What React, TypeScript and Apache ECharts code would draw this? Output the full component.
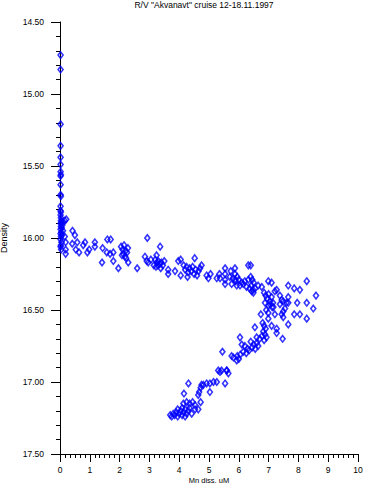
import React, { useEffect, useRef } from "react";
import * as echarts from "echarts";

const TITLE = 'R/V "Akvanavt" cruise 12-18.11.1997';
const X_NAME = "Mn diss. uM";
const Y_NAME = "Density";

// [Mn diss. uM, density]
const surfaceColumn: [number, number][] = [
  [0.02, 14.73], [0.02, 14.83], [0.02, 15.21], [0.02, 15.36], [0.02, 15.44], [0.02, 15.49],
  [0.02, 15.54], [0.03, 15.56], [0.02, 15.57], [0.02, 15.63], [0.02, 15.7], [0.03, 15.71],
  [0.02, 15.78], [0.02, 15.81], [0.03, 15.82], [0.02, 15.84], [0.03, 15.86], [0.03, 15.88],
  [0.05, 15.89], [0.02, 15.9], [0.08, 15.91], [0.03, 15.92], [0.06, 15.93], [0.02, 15.94],
  [0.1, 15.95], [0.04, 15.96], [0.02, 15.97], [0.07, 15.98], [0.03, 15.99], [0.02, 16.01],
  [0.05, 16.03], [0.03, 16.05], [0.02, 16.06], [0.04, 16.08], [0.16, 15.88], [0.21, 15.87],
  [0.1, 15.89], [0.16, 15.99], [0.19, 16.03], [0.19, 16.08], [0.19, 16.11],
];

const upperHalocline: [number, number][] = [
  [0.42, 15.95], [0.5, 15.98], [0.41, 16.04], [0.58, 16.03], [0.53, 16.08], [0.64, 16.1],
  [0.78, 16.05], [0.84, 16.03], [0.98, 16.08], [0.92, 16.1], [1.17, 16.03], [1.17, 16.06],
  [1.43, 16.07], [1.41, 16.17], [1.59, 16.01], [1.7, 16.01], [1.57, 16.1], [1.68, 16.11],
  [1.79, 16.1], [1.79, 16.16], [1.96, 16.21], [2.05, 16.06], [2.1, 16.08], [2.15, 16.05],
  [2.2, 16.09], [2.12, 16.11], [2.25, 16.1], [2.18, 16.13], [2.08, 16.12], [2.28, 16.07],
  [2.22, 16.14], [2.29, 16.17], [2.59, 16.21], [2.93, 16.0], [2.85, 16.13], [2.91, 16.16],
  [2.96, 16.17], [3.05, 16.15],
];

const midHalocline: [number, number][] = [
  [3.2, 16.15], [3.25, 16.17], [3.3, 16.16], [3.35, 16.18], [3.28, 16.19], [3.4, 16.17],
  [3.45, 16.19], [3.22, 16.2], [3.38, 16.21], [3.5, 16.16], [3.24, 16.12], [3.36, 16.06],
  [3.15, 16.19], [3.63, 16.22], [3.63, 16.25], [3.86, 16.23], [3.97, 16.16], [4.05, 16.15],
  [4.05, 16.26], [4.15, 16.19], [4.2, 16.22], [4.25, 16.2], [4.3, 16.24], [4.35, 16.21],
  [4.4, 16.23], [4.45, 16.2], [4.5, 16.25], [4.55, 16.22], [4.6, 16.26], [4.65, 16.23],
  [4.7, 16.21], [4.28, 16.27], [4.52, 16.14], [4.75, 16.19], [4.92, 16.26], [4.98, 16.28],
  [5.05, 16.25], [5.26, 16.28], [5.37, 16.28], [5.35, 16.25], [5.54, 16.21], [5.54, 16.25],
  [5.54, 16.29], [5.54, 16.32], [5.73, 16.23], [5.87, 16.21], [5.87, 16.25], [5.87, 16.29],
  [5.76, 16.32], [5.93, 16.33], [6.04, 16.33], [6.15, 16.32], [6.26, 16.34], [6.32, 16.29],
  [6.36, 16.35], [6.32, 16.19], [6.4, 16.19], [5.7, 16.27], [5.8, 16.28], [5.9, 16.3],
  [6.0, 16.29], [6.1, 16.31], [6.2, 16.3], [5.95, 16.27],
];

const maximumLayer: [number, number][] = [
  [6.4, 16.27], [6.45, 16.29], [6.5, 16.31], [6.42, 16.33], [6.55, 16.35], [6.48, 16.36],
  [6.43, 16.37], [6.49, 16.38], [6.65, 16.33], [6.77, 16.34], [6.99, 16.3], [7.1, 16.31],
  [7.27, 16.36], [7.21, 16.37], [7.38, 16.4], [7.44, 16.43], [7.66, 16.33], [7.86, 16.35],
  [8.05, 16.36], [8.28, 16.3], [8.59, 16.4], [7.66, 16.41], [6.85, 16.38], [6.9, 16.4],
  [6.95, 16.42], [7.0, 16.39], [7.05, 16.44], [7.1, 16.41], [6.88, 16.45], [7.0, 16.47],
  [7.12, 16.48], [6.92, 16.5], [7.15, 16.45], [7.05, 16.46], [7.16, 16.48], [7.38, 16.46],
  [7.49, 16.44], [7.6, 16.45], [7.66, 16.45], [7.55, 16.49], [7.49, 16.51], [7.44, 16.53],
  [7.49, 16.55], [7.96, 16.45], [8.28, 16.45], [8.5, 16.49], [7.86, 16.53], [8.05, 16.53],
  [8.28, 16.56], [7.66, 16.6], [7.47, 16.7], [7.27, 16.63], [7.27, 16.66], [7.1, 16.61],
  [6.99, 16.52], [6.99, 16.56], [6.74, 16.53], [7.21, 16.53],
];

const lowerLayer: [number, number][] = [
  [6.8, 16.59], [6.85, 16.61], [6.9, 16.63], [6.82, 16.65], [6.88, 16.67], [6.93, 16.69],
  [6.85, 16.71], [6.78, 16.68], [6.54, 16.62], [6.6, 16.69], [6.7, 16.7], [6.4, 16.72],
  [6.5, 16.74], [6.6, 16.73], [6.45, 16.76], [6.55, 16.77], [6.65, 16.75], [6.35, 16.78],
  [6.04, 16.69], [6.1, 16.74], [6.2, 16.75], [6.3, 16.77], [6.15, 16.79], [6.25, 16.8],
  [6.05, 16.81], [5.95, 16.82], [6.0, 16.84], [5.93, 16.85], [5.82, 16.83], [5.76, 16.82],
  [5.45, 16.79], [5.6, 16.92],
];

const deepLayer: [number, number][] = [
  [5.31, 16.92], [5.37, 16.93], [5.42, 16.92], [5.59, 16.92], [5.65, 16.94], [5.54, 17.01],
  [5.26, 17.0], [5.15, 17.0], [5.03, 17.01], [4.92, 17.01], [4.81, 17.02], [4.75, 17.02],
  [5.03, 17.07], [4.72, 17.04], [4.67, 17.07], [4.64, 17.09], [4.31, 17.01], [4.16, 17.08],
  [4.14, 17.15], [4.25, 17.14], [4.35, 17.15], [4.45, 17.14], [4.53, 17.16], [4.72, 17.14],
  [4.64, 17.19], [4.53, 17.19], [4.42, 17.22], [3.7, 17.23], [3.75, 17.24], [3.8, 17.22],
  [3.85, 17.23], [3.9, 17.21], [3.95, 17.24], [4.0, 17.22], [4.05, 17.2], [4.1, 17.23],
  [4.15, 17.21], [4.2, 17.19], [4.25, 17.22], [4.3, 17.2], [4.35, 17.18], [4.1, 17.18],
  [3.95, 17.19], [4.2, 17.24],
];

const X_MIN = 0;
const X_MAX = 10;
const X_STEP = 1;
const Y_MIN = 14.5;
const Y_MAX = 17.5;
const Y_STEP = 0.5;

const FONT = "'Liberation Sans', Arial, sans-serif";

export default function App() {
  const ref = useRef<HTMLDivElement>(null);
  useEffect(() => {
    if (!ref.current) return;
    const chart = echarts.init(ref.current, undefined, { renderer: "svg" });
    const allPoints = [
      ...surfaceColumn,
      ...upperHalocline,
      ...midHalocline,
      ...maximumLayer,
      ...lowerLayer,
      ...deepLayer,
    ];
    const axisLine = { lineStyle: { color: "#000", width: 1 } };
    chart.setOption({
      animation: false,
      backgroundColor: "#fff",
      grid: {
        left: 60,
        right: 15,
        top: 22,
        bottom: 31,
        containLabel: false,
        outerBoundsMode: "none",
      },
      graphic: [
        {
          type: "text",
          x: 204,
          y: 5,
          style: {
            text: TITLE,
            fontSize: 8.5,
            fontFamily: FONT,
            fill: "#000",
            textAlign: "center",
            textVerticalAlign: "middle",
          },
        },
        {
          type: "text",
          x: 209,
          y: 480.5,
          style: {
            text: X_NAME,
            fontSize: 7.5,
            fontFamily: FONT,
            fill: "#000",
            textAlign: "center",
            textVerticalAlign: "middle",
          },
        },
      ],
      xAxis: {
        type: "value",
        min: X_MIN,
        max: X_MAX,
        interval: X_STEP,
        position: "bottom",
        axisLine: { show: true, onZero: false, ...axisLine },
        axisTick: { show: true, length: 8, lineStyle: { color: "#000" } },
        minorTick: { show: true, splitNumber: 6, length: 4, lineStyle: { color: "#000" } },
        splitLine: { show: false },
        axisLabel: { margin: 11, fontSize: 8.5, color: "#000", fontFamily: FONT },
      },
      yAxis: {
        type: "value",
        inverse: true,
        min: Y_MIN,
        max: Y_MAX,
        interval: Y_STEP,
        axisLine: { show: true, onZero: false, ...axisLine },
        axisTick: { show: true, length: 9, lineStyle: { color: "#000" } },
        minorTick: { show: true, splitNumber: 5, length: 4, lineStyle: { color: "#000" } },
        splitLine: { show: false },
        axisLabel: {
          margin: 16,
          fontSize: 8.5,
          color: "#000",
          fontFamily: FONT,
          formatter: (v: number) => v.toFixed(2),
        },
        name: Y_NAME,
        nameLocation: "middle",
        nameGap: 52,
        nameRotate: 90,
        nameTextStyle: { fontSize: 9, color: "#000", fontFamily: FONT },
      },
      series: [
        {
          type: "scatter",
          data: allPoints,
          symbol: "diamond",
          symbolSize: [5, 6.5],
          itemStyle: { color: "rgba(255,255,255,0)", borderColor: "#0000ff", borderWidth: 1.6 },
        },
      ],
    });
    return () => chart.dispose();
  }, []);
  return (
    <div
      ref={ref}
      style={{ position: "fixed", left: 0, top: 0, width: 373, height: 485, background: "#fff" }}
    />
  );
}
